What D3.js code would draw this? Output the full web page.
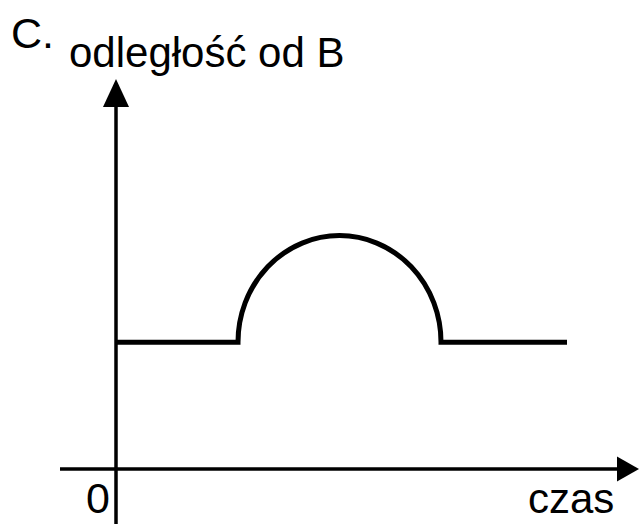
<!DOCTYPE html>
<html>
<head>
<meta charset="utf-8">
<script src="https://cdn.jsdelivr.net/npm/d3@7"></script>
<style>
  body { margin: 0; background: #fff; }
  text { font-family: "Liberation Sans", Arial, sans-serif; fill: #000; }
</style>
</head>
<body>
<div class="chart"></div>
<script>
// data (arbitrary units)
var times = [0, 2.44, 6.5, 9.02];      // start, bump start, bump end, end
var distances = [3.26, 3.26, 3.26, 3.26];
var peak = 6.0;                          // top of the bump
var labels = { title: "odległość od B", xLabel: "czas", origin: "0", tag: "C." };

var width = 641, height = 524;
var origin = { x: 116, y: 469 };

var x = d3.scaleLinear().domain([0, 10]).range([origin.x, origin.x + 500]);
var y = d3.scaleLinear().domain([0, 10]).range([origin.y, origin.y - 389]);

var svg = d3.select(".chart")
    .append("svg")
    .attr("width", width)
    .attr("height", height);

// axes
svg.append("line")
    .attr("x1", 60).attr("x2", 620)
    .attr("y1", y(0)).attr("y2", y(0))
    .attr("stroke", "#000").attr("stroke-width", 3.5);
svg.append("path")
    .attr("d", "M617," + (y(0) - 12.5) + "L639," + y(0) + "L617," + (y(0) + 12.5) + "Z")
    .attr("fill", "#000");

svg.append("line")
    .attr("x1", x(0)).attr("x2", x(0))
    .attr("y1", 105).attr("y2", height)
    .attr("stroke", "#000").attr("stroke-width", 3.5);
svg.append("path")
    .attr("d", "M" + (x(0) - 13) + ",107L" + x(0) + ",79L" + (x(0) + 13) + ",107Z")
    .attr("fill", "#000");

// the curve: flat, half-ellipse bump, flat
var rx = (x(times[2]) - x(times[1])) / 2;
var ry = y(distances[1]) - y(peak);
var d = "M" + x(times[0]) + "," + y(distances[0]) +
    "L" + x(times[1]) + "," + y(distances[1]) +
    "A" + rx + "," + ry + " 0 0 1 " + x(times[2]) + "," + y(distances[2]) +
    "L" + x(times[3]) + "," + y(distances[3]);

svg.append("path")
    .attr("d", d)
    .attr("fill", "none")
    .attr("stroke", "#000")
    .attr("stroke-width", 5)
    .attr("stroke-linejoin", "miter");

// texts
svg.append("text").attr("x", 11).attr("y", 48)
    .attr("font-size", 43).text(labels.tag);
svg.append("text").attr("x", 69).attr("y", 67)
    .attr("font-size", 42).text(labels.title);
svg.append("text").attr("x", 86).attr("y", 513)
    .attr("font-size", 43).text(labels.origin);
svg.append("text").attr("x", 528).attr("y", 513)
    .attr("font-size", 42).text(labels.xLabel);
</script>
</body>
</html>
